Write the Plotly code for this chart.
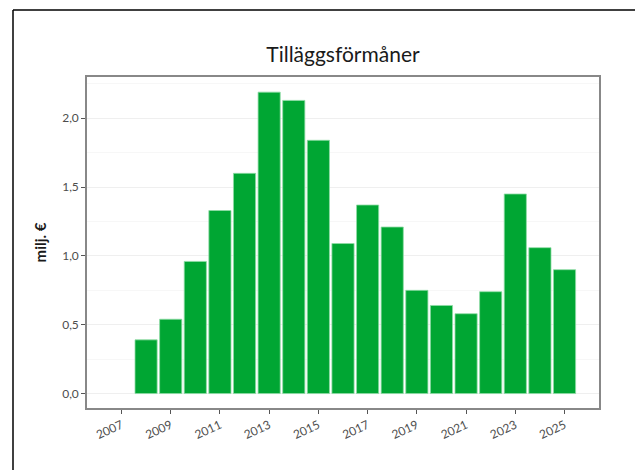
import plotly.graph_objects as go

years = [2008, 2009, 2010, 2011, 2012, 2013, 2014, 2015, 2016, 2017,
         2018, 2019, 2020, 2021, 2022, 2023, 2024, 2025]
values = [0.39, 0.54, 0.96, 1.33, 1.60, 2.19, 2.13, 1.84, 1.09, 1.37,
          1.21, 0.75, 0.64, 0.58, 0.74, 1.45, 1.06, 0.90]
x_ticks = [2007, 2009, 2011, 2013, 2015, 2017, 2019, 2021, 2023, 2025]
y_ticks = [0.0, 0.5, 1.0, 1.5, 2.0]

title_text = "Tilläggsförmåner"
y_title = "milj. €"

FONT = "Lato"

fig = go.Figure(
    go.Bar(
        x=years,
        y=values,
        width=0.9,
        marker=dict(color="#00A633", line=dict(color="#8fdca6", width=0.8)),
        hoverinfo="x+y",
    )
)

# figure slightly larger than the window so its edge falls outside the view
W, H = 660, 490
L, R, T, B = 87, 599, 77, 408
pw, ph = R - L, B - T


def px_x(p):
    return (p - L) / pw


def px_y(p):
    return (B - p) / ph


fig.update_layout(
    width=W,
    height=H,
    margin=dict(l=L, r=W - R, t=T, b=H - B, pad=0),
    paper_bgcolor="white",
    plot_bgcolor="white",
    separators=",.",
    showlegend=False,
    font=dict(family=FONT, color="#4d4d4d", size=12),
    title=dict(
        text=title_text,
        x=0.5, xref="paper", xanchor="center",
        y=(H - 55) / H, yref="container", yanchor="middle",
        font=dict(family=FONT, size=21, color="#1a1a1a"),
    ),
    xaxis=dict(
        range=[2005.6, 2026.4],
        tickvals=x_ticks,
        ticktext=[str(v) for v in x_ticks],
        tickangle=-25,
        ticks="outside",
        ticklen=4,
        tickcolor="#555555",
        showgrid=False,
        zeroline=False,
        showline=True,
        linecolor="#888888",
        linewidth=1.5,
        mirror=True,
        tickfont=dict(family=FONT, size=12, color="#4d4d4d"),
        fixedrange=True,
    ),
    yaxis=dict(
        range=[-0.105, 2.3],
        tickvals=y_ticks,
        tickformat=".1f",
        ticks="outside",
        ticklen=4,
        tickcolor="#555555",
        showgrid=True,
        gridcolor="#efefef",
        minor=dict(dtick=0.25, tick0=0, showgrid=True, gridcolor="#f7f7f7"),
        zeroline=False,
        showline=True,
        linecolor="#888888",
        linewidth=1.5,
        mirror=True,
        tickfont=dict(family=FONT, size=12, color="#4d4d4d"),
        title=dict(text="<b>" + y_title + "</b>", font=dict(family=FONT, size=15, color="#1a1a1a"), standoff=12),
        fixedrange=True,
    ),
    shapes=[
        dict(type="line", xref="paper", yref="paper",
             x0=px_x(13), x1=px_x(650), y0=px_y(10), y1=px_y(10),
             line=dict(color="black", width=1.5)),
        dict(type="line", xref="paper", yref="paper",
             x0=px_x(13), x1=px_x(13), y0=px_y(10), y1=px_y(485),
             line=dict(color="black", width=1.5)),
    ],
)

fig.write_html(
    "out.html",
    config={"displayModeBar": False},
    post_script="document.body.style.margin='0';document.body.style.overflow='hidden';",
)
